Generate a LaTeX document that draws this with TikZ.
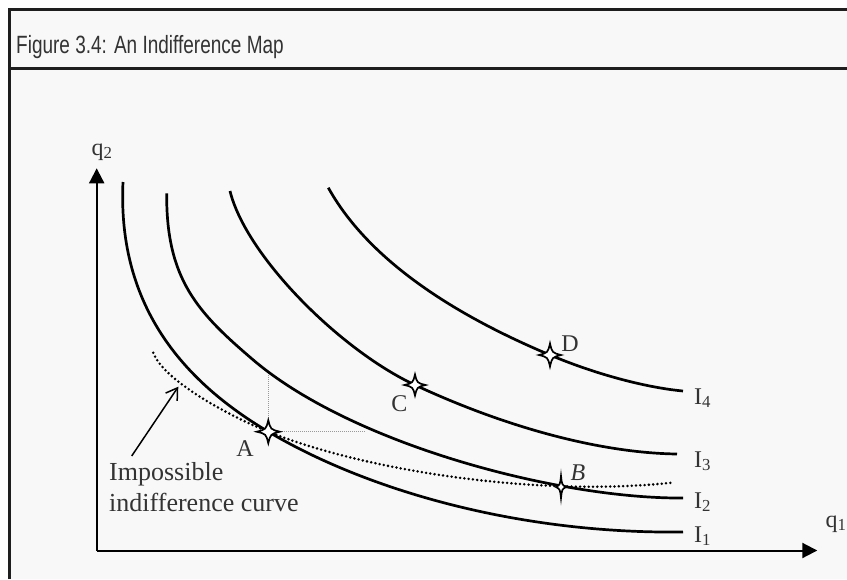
\documentclass[tikz,border=0pt]{standalone}
\usepackage{fontspec}
\setmainfont{Liberation Serif}
\newfontfamily\titlefont[FakeStretch=0.76]{Liberation Sans}
\usetikzlibrary{arrows.meta}
\definecolor{bgc}{HTML}{F8F8F8}
\definecolor{framec}{HTML}{1E1E1E}
\definecolor{txt}{HTML}{333333}
\definecolor{guidec}{HTML}{999999}
\tikzset{
  frameline/.style={framec, line width=3pt},
  axisline/.style={black, line width=2pt, -{Triangle[length=15pt,width=15pt]}},
  icurve/.style={black, line width=2.7pt},
  impcurve/.style={black, line width=2.8pt, line cap=round, dash pattern=on 0pt off 4.3pt},
  guide/.style={guidec, line width=1pt, dash pattern=on 1pt off 1pt},
  lbl/.style={txt, inner sep=0pt, font=\fontsize{24}{28}\selectfont},
  starline/.style={black, line width=1.7pt, fill=white, line join=miter},
  pics/sparkle/.style n args={2}{code={
    \draw[starline] (0,-#2) .. controls ({0.2*#1},{-0.2*#2}) .. (#1,0)
      .. controls ({0.2*#1},{0.2*#2}) .. (0,#2)
      .. controls ({-0.2*#1},{0.2*#2}) .. (-#1,0)
      .. controls ({-0.2*#1},{-0.2*#2}) .. (0,-#2) -- cycle;
  }}
}
\begin{document}
\begin{tikzpicture}[x=1pt,y=-1pt]
\useasboundingbox (0,0) rectangle (847,579);
\fill[white] (0,0) rectangle (847,579);
\fill[bgc] (9.5,9.5) rectangle (847,579);
\draw[frameline] (9.5,579) -- (9.5,9.5) -- (847,9.5);
\draw[frameline] (9.5,68.5) -- (847,68.5);
\node[anchor=base west, inner sep=0pt, txt, font=\titlefont\fontsize{25}{30}\selectfont] (title) at (16,53.5) {Figure 3.4: An Indifference Map};

% key points
\coordinate (O) at (96.7,550.5);
\coordinate (ytip) at (96.7,168.3);
\coordinate (xtip) at (817.3,550.5);
\coordinate (A) at (268.3,431.7);
\coordinate (B) at (561,487);
\coordinate (C) at (415,385);
\coordinate (D) at (550,355);
\coordinate (gv) at (268.3,372);
\coordinate (gh) at (365,431.7);
\coordinate (impTail) at (131.7,456);
\coordinate (impTip) at (178.3,386.7);

% axes
\draw[axisline] (O) -- (ytip);
\draw[axisline] (O) -- (xtip);
\node[lbl, anchor=base west] (q2) at (91.5,155) {q\textsubscript{2}};
\node[lbl, anchor=base west] (q1) at (825.5,527) {q\textsubscript{1}};

% guides
\draw[guide] (A) -- (gv);
\draw[guide] (A) -- (gh);

% indifference curves
\draw[icurve] (123,182) .. controls (117,310) and (188,384) .. (A)
  .. controls (368.3,491.1) and (520,534) .. (683,532);
\draw[icurve] (166.7,193.3) .. controls (166,280) and (198.3,313) .. (253.3,360)
  .. controls (353.3,445) and (560,499) .. (683,498);
\draw[icurve] (230,191) .. controls (246,256) and (340,350) .. (C)
  .. controls (505,427) and (600,453) .. (677,454);
\draw[icurve] (328.3,187.7) .. controls (375,272) and (480,325.6) .. (D)
  .. controls (600,376) and (650,388) .. (683,391);
\draw[impcurve] (153.3,352.7) .. controls (163,380) and (228.3,415.7) .. (A)
  .. controls (368.3,471.7) and (540,497) .. (671.7,482.7);

% curve labels
\node[lbl, anchor=base west] (I4) at (694,404) {I\textsubscript{4}};
\node[lbl, anchor=base west] (I3) at (694,467) {I\textsubscript{3}};
\node[lbl, anchor=base west] (I2) at (694,508) {I\textsubscript{2}};
\node[lbl, anchor=base west] (I1) at (694,542) {I\textsubscript{1}};

% stars
\pic at (A) {sparkle={11.5}{11.5}};
\pic at (C) {sparkle={10.5}{10.5}};
\pic at (D) {sparkle={11}{11.5}};
\pic at (B) {sparkle={5}{11}};

% point labels
\node[lbl, anchor=base] (Alab) at (245,456) {A};
\node[lbl, anchor=base] (Clab) at (399.5,411) {C};
\node[lbl, anchor=base] (Dlab) at (570,351.5) {D};
\node[lbl, anchor=base] (Blab) at (578,480) {\itshape B};

% impossible curve annotation
\node[txt, anchor=north west, align=left, inner sep=0pt, font=\fontsize{26}{31.7}\selectfont] (imp) at (109,462) {Impossible\\indifference curve};
\draw[black, line width=1.5pt, -{Straight Barb[length=11pt,width=14pt]}] (impTail) -- (impTip);
\end{tikzpicture}
\end{document}
